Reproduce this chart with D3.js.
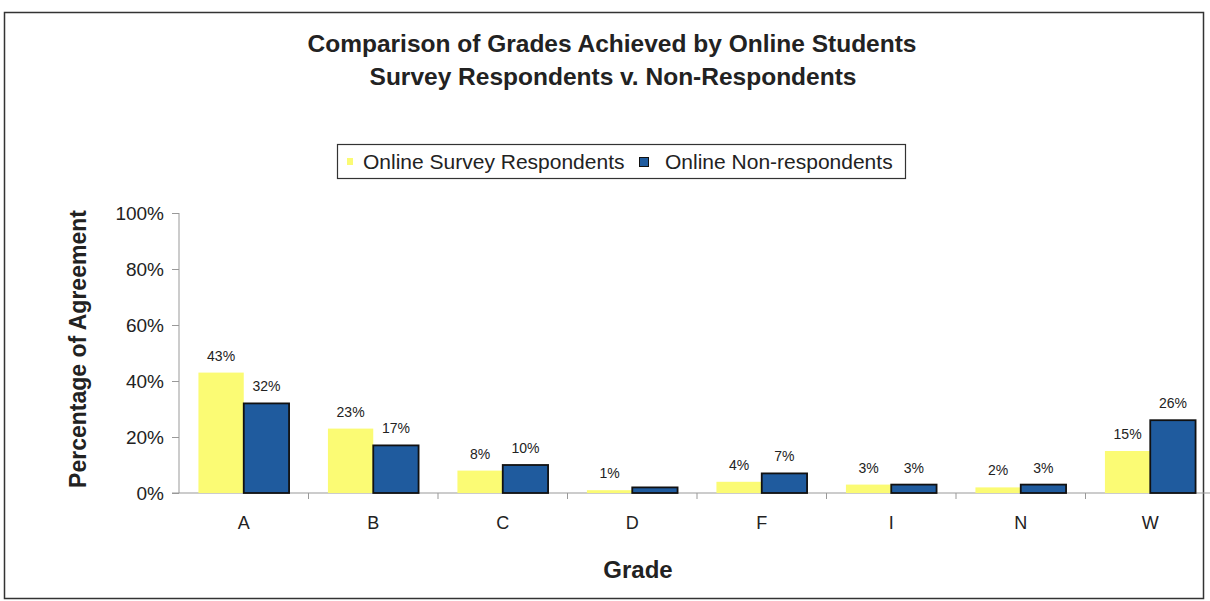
<!DOCTYPE html>
<html lang="en">
<head>
<meta charset="utf-8">
<title>Comparison of Grades Achieved by Online Students</title>
<script src="https://d3js.org/d3.v7.min.js"></script>
<style>
    body { margin: 0; background: #fff; }
    text { font-family: "Liberation Sans", Arial, sans-serif; fill: #222; }
    .title { font-weight: bold; font-size: 24.5px; }
    .axis path, .axis line { stroke: #999; }
    .axis text { font-size: 19px; fill: #222; }
    .val { font-size: 14px; }
</style>
</head>
<body>
<div id="chart"></div>
<script>
    // data
    var grades = ["A", "B", "C", "D", "F", "I", "N", "W"];
    var respondents = [43, 23, 8, 1, 4, 3, 2, 15];
    var nonRespondents = [32, 17, 10, 2, 7, 3, 3, 26];
    var nonRespLabels = ["32%", "17%", "10%", "", "7%", "3%", "3%", "26%"];
    var seriesNames = ["Online Survey Respondents", "Online Non-respondents"];
    var yTicks = [0, 20, 40, 60, 80, 100];

    var W = 1210, H = 601;
    var margin = {top: 213, right: -5, bottom: 108, left: 179};
    var width = W - margin.left - margin.right,
        height = H - margin.top - margin.bottom;

    var svg = d3.select("#chart").append("svg")
        .attr("width", W)
        .attr("height", H);

    // outer frame
    svg.append("rect")
        .attr("x", 4.5).attr("y", 12.5)
        .attr("width", 1199).attr("height", 586)
        .attr("fill", "none").attr("stroke", "#333").attr("stroke-width", 1.5);

    svg.append("text").attr("class", "title")
        .attr("x", 612).attr("y", 52).attr("text-anchor", "middle")
        .text("Comparison of Grades Achieved by Online Students");
    svg.append("text").attr("class", "title")
        .attr("x", 613).attr("y", 85).attr("text-anchor", "middle")
        .text("Survey Respondents v. Non-Respondents");

    // legend
    var lg = svg.append("g").attr("transform", "translate(337,144)");
    lg.append("rect").attr("x", 0.5).attr("y", 0.5).attr("width", 568).attr("height", 34)
        .attr("fill", "#fff").attr("stroke", "#333").attr("stroke-width", 1.2);
    lg.append("rect").attr("x", 10).attr("y", 14).attr("width", 6).attr("height", 7)
        .attr("fill", "#fbfb74");
    lg.append("text").attr("x", 26).attr("y", 25).style("font-size", "21px").text(seriesNames[0]);
    lg.append("rect").attr("x", 302.5).attr("y", 13.5).attr("width", 9).attr("height", 9)
        .attr("fill", "#1f5b9e").attr("stroke", "#111");
    lg.append("text").attr("x", 328).attr("y", 25).style("font-size", "21px").text(seriesNames[1]);

    var g = svg.append("g")
        .attr("transform", "translate(" + margin.left + "," + margin.top + ")");

    var x = d3.scaleBand().domain(grades).range([0, width]).paddingInner(0.3).paddingOuter(0.15);
    var x0 = d3.scaleBand().domain(grades).range([0, width]);
    var xs = d3.scaleBand().domain([0, 1]).range([0, x.bandwidth()]);
    var y = d3.scaleLinear().domain([0, 100]).range([height, 0]);

    // y axis
    var ya = g.append("g").attr("class", "axis")
        .call(d3.axisLeft(y).tickValues(yTicks).tickSize(7).tickPadding(8)
            .tickFormat(function(d) { return d + "%"; }));
    ya.select(".domain").attr("d", "M0," + y(100) + "V" + height);
    ya.selectAll(".tick text").attr("dy", "0.36em");

    // x axis: line with ticks between categories
    var xa = g.append("g").attr("class", "axis").attr("transform", "translate(0," + height + ")");
    xa.append("line").attr("x1", -7).attr("x2", width).attr("stroke", "#999");
    xa.selectAll(".sep").data(grades.slice(1)).enter().append("line")
        .attr("x1", function(d) { return x0(d); }).attr("x2", function(d) { return x0(d); })
        .attr("y1", 0).attr("y2", 6).attr("stroke", "#999");
    xa.selectAll(".lab").data(grades).enter().append("text")
        .attr("x", function(d) { return x0(d) + x0.bandwidth() / 2; })
        .attr("y", 36).attr("text-anchor", "middle").style("font-size", "18px")
        .text(function(d) { return d; });

    // bars
    g.selectAll(".bar1").data(grades).enter().append("rect")
        .attr("x", function(d) { return x(d) + xs(0); })
        .attr("y", function(d, i) { return y(respondents[i]); })
        .attr("width", xs.bandwidth())
        .attr("height", function(d, i) { return height - y(respondents[i]); })
        .attr("fill", "#fbfb74");

    g.selectAll(".bar2").data(grades).enter().append("rect")
        .attr("x", function(d) { return x(d) + xs(1); })
        .attr("y", function(d, i) { return y(nonRespondents[i]); })
        .attr("width", xs.bandwidth())
        .attr("height", function(d, i) { return height - y(nonRespondents[i]); })
        .attr("fill", "#1f5b9e").attr("stroke", "#111").attr("stroke-width", 1.8);

    // value labels
    g.selectAll(".v1").data(grades).enter().append("text").attr("class", "val")
        .attr("x", function(d) { return x(d) + xs(0) + xs.bandwidth() / 2; })
        .attr("y", function(d, i) { return y(respondents[i]) - 12; })
        .attr("text-anchor", "middle")
        .text(function(d, i) { return respondents[i] + "%"; });

    g.selectAll(".v2").data(grades).enter().append("text").attr("class", "val")
        .attr("x", function(d) { return x(d) + xs(1) + xs.bandwidth() / 2; })
        .attr("y", function(d, i) { return y(nonRespondents[i]) - 12; })
        .attr("text-anchor", "middle")
        .text(function(d, i) { return nonRespLabels[i]; });

    // axis titles
    svg.append("text").attr("class", "title")
        .attr("transform", "translate(86,349) rotate(-90)")
        .attr("text-anchor", "middle").style("font-size", "23px")
        .text("Percentage of Agreement");
    svg.append("text").attr("class", "title")
        .attr("x", 638).attr("y", 578).attr("text-anchor", "middle").style("font-size", "24px")
        .text("Grade");
</script>
</body>
</html>
